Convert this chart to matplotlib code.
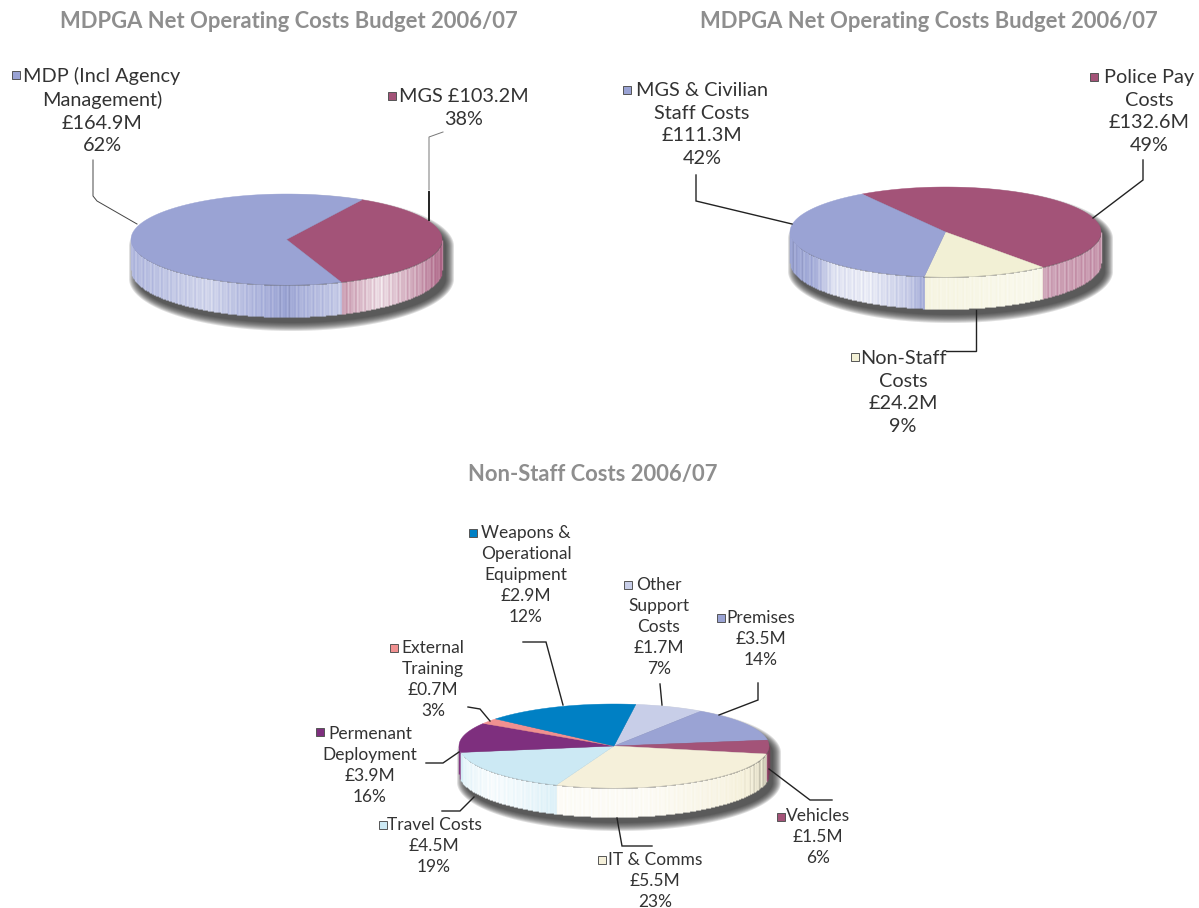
import numpy as np
import matplotlib
matplotlib.use('Agg')
import matplotlib.pyplot as plt
from matplotlib.collections import LineCollection
from matplotlib.colors import to_rgb

plt.rcParams['font.family'] = ['Lato', 'DejaVu Sans']

# shares are the slice sizes, they dont quite follow the printed %
left_names = ['MGS', 'MDP']
left_shares = [36.2, 63.8]
left_colors = ['#a35378', '#9aa3d4']

right_names = ['Police Pay', 'Non-Staff', 'MGS & Civilian']
right_shares = [48.3, 12.9, 38.8]
right_colors = ['#a35378', '#f2f0d5', '#9aa3d4']

bottom_names = ['Other Support', 'Premises', 'Vehicles', 'IT & Comms', 'Travel',
                'Permenant Deployment', 'External Training', 'Weapons']
bottom_shares = [7.2, 13.3, 5.3, 28.0, 16.5, 11.5, 2.1, 16.1]
bottom_colors = ['#c8cee8', '#9aa3d4', '#a35378', '#f5f0da', '#cce9f4',
                 '#7e2f7e', '#f09090', '#0080c4']

titles = ['MDPGA Net Operating Costs Budget 2006/07',
          'MDPGA Net Operating Costs Budget 2006/07',
          'Non-Staff Costs 2006/07']

fig = plt.figure(figsize=(11.99, 9.08), dpi=100)
ax = fig.add_axes([0, 0, 1, 1])
ax.set_xlim(0, 1199)
ax.set_ylim(908, 0)
ax.axis('off')


def blend(col, w):
    c = np.array(to_rgb(col))
    if w >= 0:
        return tuple(c + (1 - c) * min(w, 1))
    return tuple(c * (1 + w))


def pie3d(cx, cy, a, b, depth, shares, colors, start, prof_x, prof_w):
    # shadow first, only sticks out lower right
    t = np.linspace(0, 2 * np.pi, 200)
    for k in range(9):
        grow = 9 - k
        sx = cx + 5 + (a + grow - 2) * np.cos(t)
        sy = cy + 7 + depth * (np.sin(t) > 0) + (b + grow - 2) * np.sin(t)
        ax.fill(sx, sy, color='#2a2a2a', alpha=0.15, lw=0, zorder=1)

    sweeps = np.array(shares) / sum(shares) * 360
    edges = start - np.concatenate([[0], np.cumsum(sweeps)])

    # side wall, one thin vertical line per pixel column
    xs = np.arange(cx - a, cx + a + 1, 1.0)
    segs = []
    cols = []
    for i, x in enumerate(xs):
        u = np.clip((x - cx) / a, -1, 1)
        ang = -np.degrees(np.arccos(u))
        top = cy + b * np.sqrt(1 - u * u)
        for s in range(len(sweeps)):
            aa = (ang - edges[s + 1]) % 360
            if aa <= sweeps[s]:
                break
        w = np.interp((x - cx + a) / (2 * a), prof_x, prof_w)
        w = w + 0.15 * np.sin(i * 1.7) * np.sin(i * 0.37)
        segs.append([(x, top), (x, top + depth * np.sqrt(1 - (u * 0.25) ** 2))])
        cols.append(blend(colors[s], w))
    ax.add_collection(LineCollection(segs, colors=cols, linewidths=1.0, zorder=2))

    # top face
    for s in range(len(sweeps)):
        th = np.radians(np.linspace(edges[s], edges[s + 1], 120))
        px = np.concatenate([[cx], cx + a * np.cos(th)])
        py = np.concatenate([[cy], cy - b * np.sin(th)])
        ax.fill(px, py, color=colors[s], lw=0.3, zorder=3)


def label(x, y, lines, size, sq_x, sq_y, sq_col, sp):
    ax.text(x, y, '\n'.join(lines), ha='center', va='top', fontsize=size,
            color='#333333', linespacing=sp, zorder=6)
    ax.plot([sq_x], [sq_y], marker='s', ms=5.5, mfc=sq_col, mec='#555555', mew=0.7,
            ls='none', zorder=6)


def leader(xs, ys, lw=1.0, col='#222222'):
    ax.plot(xs, ys, color=col, lw=lw, zorder=5, solid_joinstyle='miter')


pie3d(286.5, 239.5, 155.5, 45.5, 32, left_shares, left_colors, 60.9,
      [0, 0.08, 0.25, 0.5, 0.55, 0.68, 0.8, 0.93, 1], [0.25, 0.35, 0.55, 0.02, 0.2, 0.45, 0.8, 0.45, 0.15])
pie3d(945.5, 232, 155.5, 45, 32, right_shares, right_colors, 122.5,
      [0, 0.08, 0.14, 0.25, 0.38, 0.43, 0.45, 0.77, 0.78, 1], [0.0, 0.15, 0.7, 0.8, 0.45, 0.1, 0.35, 0.55, 0.5, 0.4])
pie3d(614, 746, 155, 42, 29, bottom_shares, bottom_colors, 81.9,
      [0, 0.02, 0.1, 0.2, 0.31, 0.32, 0.6, 0.85, 0.97, 1], [0.0, 0.6, 0.85, 0.7, 0.35, 0.8, 0.75, 0.3, -0.1, -0.15])

# titles
ax.text(288.5, 22, titles[0], ha='center', va='center', fontsize=15.8, fontweight='bold', color='#8e8e8e')
ax.text(928.5, 22, titles[1], ha='center', va='center', fontsize=15.8, fontweight='bold', color='#8e8e8e')
ax.text(593, 474, titles[2], ha='center', va='center', fontsize=15.8, fontweight='bold', color='#8e8e8e')

top_sp = 1.4
low_sp = 1.38

# top left
label(102, 67, ['MDP (Incl Agency', 'Management)', '£164.9M', '62%'], 14.3, 16, 75, '#9aa3d4', top_sp)
label(464, 88, ['MGS £103.2M', '38%'], 14.3, 392, 96, '#a35378', top_sp)
leader([429, 429, 443], [190, 137, 132], 0.7, '#777777')
leader([429, 429], [220, 192], 1.4)
leader([137, 97, 93, 93], [224, 201, 196, 160], 0.7, '#444444')

# top right
label(702, 82, ['MGS & Civilian', 'Staff Costs', '£111.3M', '42%'], 14.3, 627, 90, '#9aa3d4', top_sp)
label(1149, 69, ['Police Pay', 'Costs', '£132.6M', '49%'], 14.3, 1094, 77, '#a35378', top_sp)
label(903, 350, ['Non-Staff', 'Costs', '£24.2M', '9%'], 14.3, 855, 357, '#f2f0d5', top_sp)
leader([792, 696, 696], [224, 201, 175])
leader([1093, 1143, 1143], [218, 180, 160])
leader([976, 976, 946], [310, 351, 351])

# bottom
label(526, 525, ['Weapons &', 'Operational', 'Equipment', '£2.9M', '12%'], 12.5, 473, 533, '#0080c4', low_sp)
label(659, 577, ['Other', 'Support', 'Costs', '£1.7M', '7%'], 12.5, 628, 585, '#c8cee8', low_sp)
label(761, 610, ['Premises', '£3.5M', '14%'], 12.5, 721, 618, '#9aa3d4', low_sp)
label(433, 640, ['External', 'Training', '£0.7M', '3%'], 12.5, 394, 648, '#f09090', low_sp)
label(370, 726, ['Permenant', 'Deployment', '£3.9M', '16%'], 12.5, 320, 732, '#7e2f7e', low_sp)
label(434, 817, ['Travel Costs', '£4.5M', '19%'], 12.5, 383, 825, '#cce9f4', low_sp)
label(818, 808, ['Vehicles', '£1.5M', '6%'], 12.5, 781, 817, '#a35378', low_sp)
label(655, 852, ['IT & Comms', '£5.5M', '23%'], 12.5, 602, 860, '#f5f0da', low_sp)

leader([563, 546, 523], [705, 642, 642])
leader([662, 660], [705, 684])
leader([719, 758, 758], [715, 700, 683])
leader([490, 480, 468], [721, 709, 707])
leader([459, 443, 426], [752, 763, 763])
leader([474, 460, 442], [797, 811, 811])
leader([769, 810, 832], [769, 800, 800])
leader([617, 622, 652], [818, 846, 846])

fig.savefig('out.png', dpi=100, facecolor='white')
